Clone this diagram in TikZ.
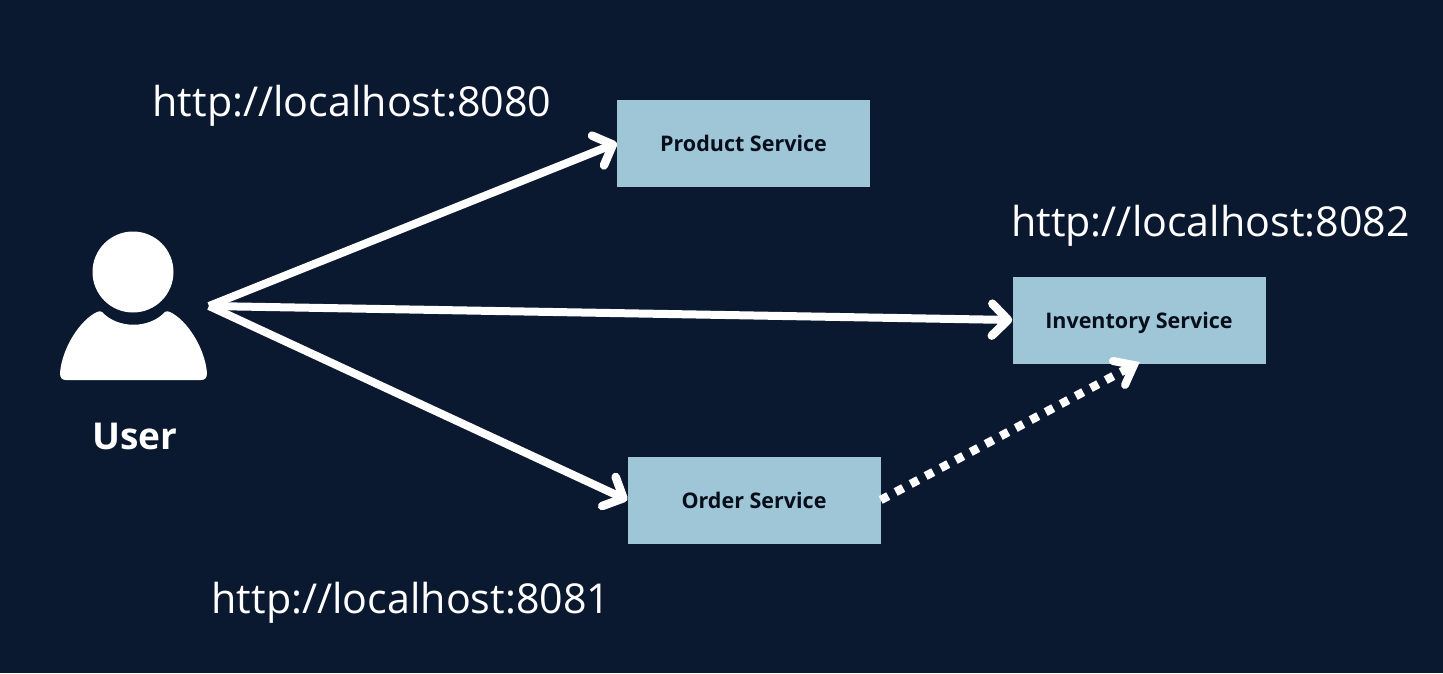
\documentclass[tikz,border=0pt]{standalone}
\usepackage{fontspec}
\setmainfont{Open Sans}
\usetikzlibrary{arrows.meta}
\definecolor{bgc}{HTML}{0A1830}
\definecolor{boxc}{HTML}{9FC6D6}
\definecolor{ink}{HTML}{060E1C}
\tikzset{
 px/.style={x=1pt,y=-1pt},
 svc/.style={fill=boxc,draw=none,minimum width=253pt,minimum height=87pt,inner sep=0pt},
 svclabel/.style={text=ink,inner sep=0pt,font=\fontsize{21.5}{26}\selectfont\bfseries},
 url/.style={text=white,inner sep=0pt,font=\fontsize{41.2}{50}\selectfont},
 conn/.style={white,line width=8pt,-{Straight Barb[length=16pt,width=32pt,line width=8.5pt,round]}},
}
\begin{document}
\begin{tikzpicture}[px]
\useasboundingbox (0,0) rectangle (1443,673);
\fill[bgc] (0,0) rectangle (1443,673);
\node[svc] (prod) at (743.5,143) {};
\node[svc] (inv) at (1139,320) {};
\node[svc] (ord) at (754,500) {};
\node[svclabel] (prodl) at (743.5,143.5) {Product Service};
\node[svclabel] (invl) at (1139,322.5) {Inventory Service};
\node[svclabel] (ordl) at (754,500.5) {Order Service};
\coordinate (src) at (209,306);
\coordinate (invb) at (1134,365);
\fill[white] (133,272) circle (40.5);
\fill[white] (60,373) .. controls (62,348) and (80,320) .. (97,312) .. controls (99,311) and (101,311) .. (102,312) .. controls (118,329) and (149,329) .. (165,312) .. controls (166,311) and (168,311) .. (170,312) .. controls (187,320) and (205,348) .. (207,373) .. controls (207,378) and (205,380) .. (201,380) -- (66,380) .. controls (62,380) and (60,378) .. (60,373) -- cycle;
\node[text=white,font=\fontsize{37}{44}\selectfont\bfseries] (user) at (135,436) {User};
\node[url] (u0) at (352,105.5) {http://localhost:8080};
\node[url] (u2) at (1210.5,225.5) {http://localhost:8082};
\node[url] (u1) at (411,603) {http://localhost:8081};
\draw[conn] (src) -- (prod.west);
\draw[conn] (src) -- (inv.west);
\draw[conn] (src) -- (ord.west);
\draw[white,line width=8.5pt,dash pattern=on 8.5pt off 8.5pt] (ord.east) -- (invb);
\draw[white,line width=8pt,line cap=round,line join=miter] (1113,361) -- (invb) -- (1125,385);
\end{tikzpicture}
\end{document}
